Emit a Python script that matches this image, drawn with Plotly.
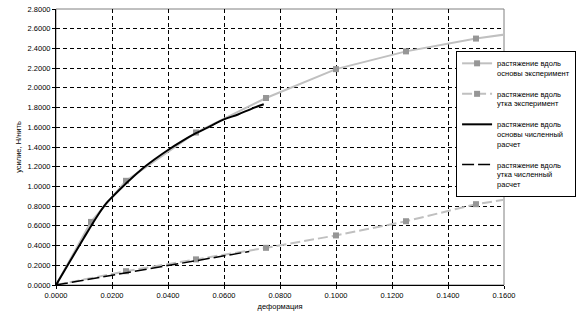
import plotly.graph_objects as go

# Data
warp_exp_x = [0.0, 0.0125, 0.025, 0.05, 0.075, 0.10, 0.125, 0.15, 0.175]
warp_exp_y = [0.0, 0.64, 1.057, 1.547, 1.897, 2.19, 2.37, 2.50, 2.60]

weft_exp_x = [0.0, 0.025, 0.05, 0.075, 0.10, 0.125, 0.15, 0.175]
weft_exp_y = [0.0, 0.14, 0.26, 0.377, 0.503, 0.647, 0.82, 0.93]

warp_num_x = [0.0, 0.005, 0.010, 0.015, 0.018, 0.020, 0.025, 0.030, 0.035, 0.040, 0.045, 0.050, 0.055, 0.060, 0.065, 0.070, 0.0742]
warp_num_y = [0.0, 0.24, 0.48, 0.71, 0.83, 0.89, 1.03, 1.16, 1.27, 1.37, 1.46, 1.54, 1.61, 1.68, 1.73, 1.79, 1.833]

weft_num_x = [0.0, 0.01, 0.02, 0.03, 0.04, 0.05, 0.06, 0.069]
weft_num_y = [0.0, 0.05, 0.10, 0.15, 0.20, 0.25, 0.295, 0.34]

names = [
    "растяжение вдоль<br>основы эксперимент",
    "растяжение вдоль<br>утка эксперимент",
    "растяжение вдоль<br>основы численный<br>расчет",
    "растяжение вдоль<br>утка численный<br>расчет",
]

x_title = "деформация"
y_title = "усилие, Н/нить"

FONT = "Liberation Sans, Arial, sans-serif"

fig = go.Figure()
fig.add_trace(go.Scatter(x=warp_exp_x, y=warp_exp_y, name=names[0], mode="lines+markers",
                         line=dict(color="#c0c0c0", width=2),
                         marker=dict(symbol="square", size=6, color="#969696"),
                         legendgroup="a"))
fig.add_trace(go.Scatter(x=weft_exp_x, y=weft_exp_y, name=names[1], mode="lines+markers",
                         line=dict(color="#c0c0c0", width=2, dash="10px,4px"),
                         marker=dict(symbol="square", size=6, color="#969696"),
                         legendgroup="b"))
fig.add_trace(go.Scatter(x=warp_num_x, y=warp_num_y, name=names[2], mode="lines",
                         line=dict(color="#000000", width=2, shape="spline", smoothing=1),
                         legendgroup="c"))
fig.add_trace(go.Scatter(x=weft_num_x, y=weft_num_y, name=names[3], mode="lines",
                         line=dict(color="#000000", width=1.5, dash="12px,4px"),
                         legendgroup="d"))

fig.add_shape(type="rect", xref="paper", yref="paper", x0=0, y0=0, x1=1, y1=1,
              line=dict(color="#808080", width=1), layer="below")

fig.update_layout(
    width=581, height=316,
    margin=dict(l=56, r=76, t=5, b=31),
    paper_bgcolor="white", plot_bgcolor="white",
    font=dict(family=FONT, size=8, color="black"),
    showlegend=True,
    legend=dict(x=0.893, y=0.848, xanchor="left", yanchor="top",
                bgcolor="white", bordercolor="black", borderwidth=1,
                font=dict(size=7.5, family=FONT), valign="top",
                tracegroupgap=8, traceorder="grouped", itemwidth=30),
)
fig.update_xaxes(range=[0, 0.16], dtick=0.02, tickformat=".4f",
                 showline=True, linecolor="black", linewidth=1,
                 showgrid=True, gridcolor="black", gridwidth=1, griddash="4px,3px",
                 ticks="outside", ticklen=3, tickcolor="black",
                 zeroline=False,
                 title=dict(text=x_title, font=dict(size=7.5), standoff=4),
                 tickfont=dict(size=7.5))
fig.update_yaxes(range=[0, 2.8], dtick=0.2, tickformat=".4f",
                 showline=True, linecolor="black", linewidth=1,
                 showgrid=True, gridcolor="black", gridwidth=1, griddash="4px,3px",
                 ticks="outside", ticklen=3, tickcolor="black",
                 zeroline=False,
                 title=dict(text=y_title, font=dict(size=7.5), standoff=4),
                 tickfont=dict(size=7.5))

fig.write_html("out.html")
